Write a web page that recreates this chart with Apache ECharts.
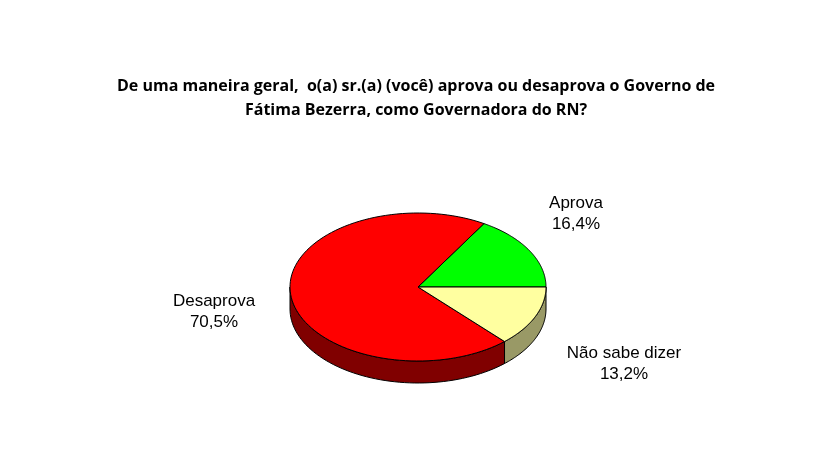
<!DOCTYPE html>
<html><head><meta charset="utf-8">
<script src="https://cdn.jsdelivr.net/npm/echarts@6/dist/echarts.min.js"></script>
<style>html,body{margin:0;padding:0;background:#fff}#c{width:832px;height:461px}</style>
</head><body><div id="c"></div>
<script>
const categories = ['Aprova', 'Desaprova', 'Não sabe dizer'];
const values = [16.4, 70.5, 13.2];
const valueLabels = ['16,4%', '70,5%', '13,2%'];
const titleLines = ['De uma maneira geral,  o(a) sr.(a) (você) aprova ou desaprova o Governo de', 'Fátima Bezerra, como Governadora do RN?'];

const topColors = ['#00FF00', '#FF0000', '#FFFFA0'];
const sideColors = ['#008000', '#800000', '#999966'];
const labelPos = [[576, 214], [214, 312], [624, 364]];
const cx = 418, cy = 287, rx = 128, ry = 74, depth = 22;
const total = values.reduce((a, b) => a + b, 0);

function pt(a, dy) { return [cx + rx * Math.cos(a), cy - ry * Math.sin(a) + (dy || 0)]; }

const chart = echarts.init(document.getElementById('c'));
chart.setOption({
  animation: false,
  graphic: titleLines.map((t, i) => ({
    type: 'text', left: 'center', top: 78 + i * 24,
    style: { text: t, font: 'bold 16px "Open Sans", sans-serif', fill: '#000' }
  })),
  series: [{
    type: 'custom', coordinateSystem: 'none',
    data: values.map((v, i) => ({ value: [v, i], name: categories[i] })),
    renderItem: function (params, api) {
      const i = params.dataIndex;
      let before = 0;
      for (let k = 0; k < i; k++) before += values[k];
      const a0 = before / total * 2 * Math.PI;
      const a1 = (before + api.value(0)) / total * 2 * Math.PI;
      const children = [];
      // side wall for lower half
      const s0 = Math.max(a0, Math.PI), s1 = Math.min(a1, 2 * Math.PI);
      if (s1 > s0) {
        const top = [], bot = [];
        const n = 60;
        for (let j = 0; j <= n; j++) {
          const a = s0 + (s1 - s0) * j / n;
          top.push(pt(a, 0)); bot.push(pt(a, depth));
        }
        children.push({ type: 'polygon', shape: { points: top.concat(bot.reverse()) },
          style: { fill: sideColors[i], stroke: '#000', lineWidth: 1 } });
      }
      const pts = [[cx, cy]];
      const n = 100;
      for (let j = 0; j <= n; j++) pts.push(pt(a0 + (a1 - a0) * j / n, 0));
      children.push({ type: 'polygon', shape: { points: pts },
        style: { fill: topColors[i], stroke: '#000', lineWidth: 1 } });
      children.push({ type: 'text', x: labelPos[i][0], y: labelPos[i][1],
        style: { text: categories[i] + '\n' + valueLabels[i], align: 'center', verticalAlign: 'middle',
          font: '17px "Liberation Sans", Arial, sans-serif', fill: '#000', lineHeight: 21 } });
      return { type: 'group', children: children };
    }
  }]
});
</script></body></html>
